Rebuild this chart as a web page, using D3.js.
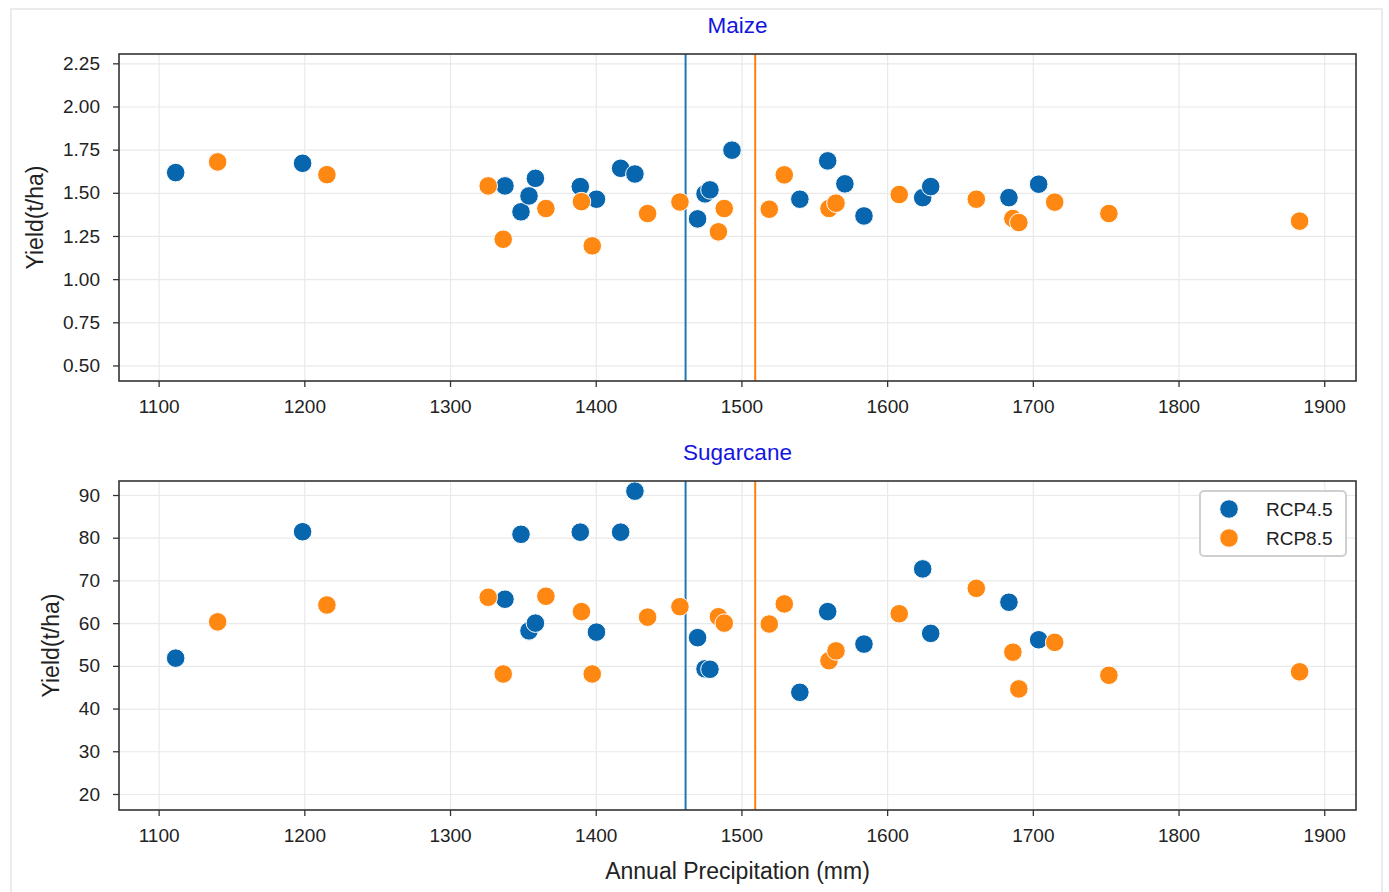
<!DOCTYPE html>
<html>
<head>
<meta charset="utf-8">
<script src="https://cdn.jsdelivr.net/npm/d3@7"></script>
<style>
  body { margin: 0; background: #fff; }
  svg { font-family: "Liberation Sans", Arial, sans-serif; }
  .tick text { fill: #222; }
</style>
</head>
<body>
<div id="chart"></div>
<script>
// annual precipitation (mm) per year, one list per scenario
const precip45 = [1111.7, 1198.8, 1337.7, 1348.7, 1354.2, 1358.6, 1389.4, 1400.5, 1417.1, 1426.9, 1469.9,
  1475.0, 1478.4, 1493.5, 1540.1, 1559.2, 1571.0, 1584.1, 1624.4, 1629.9, 1683.6, 1704.0];
const precip85 = [1140.5, 1215.5, 1326.2, 1336.5, 1365.8, 1390.2, 1397.6, 1435.6, 1457.8, 1484.2, 1488.2,
  1519.1, 1529.4, 1560.1, 1564.9, 1608.3, 1661.2, 1686.3, 1690.4, 1715.0, 1752.2, 1883.1];

// yields (t/ha)
const maize45 = [1.617, 1.671, 1.540, 1.390, 1.482, 1.584, 1.536, 1.463, 1.642, 1.609, 1.349,
  1.494, 1.517, 1.747, 1.463, 1.685, 1.552, 1.366, 1.472, 1.536, 1.472, 1.550];
const maize85 = [1.679, 1.605, 1.540, 1.231, 1.409, 1.449, 1.193, 1.380, 1.447, 1.274, 1.409,
  1.405, 1.604, 1.409, 1.440, 1.490, 1.463, 1.351, 1.328, 1.446, 1.380, 1.336];
const sugar45 = [51.8, 81.4, 65.6, 80.8, 58.2, 60.0, 81.3, 57.9, 81.3, 90.9, 56.6,
  49.3, 49.2, null, 43.8, 62.7, null, 55.1, 72.7, 57.6, 64.9, 56.1];
const sugar85 = [60.3, 64.25, 66.05, 48.1, 66.3, 62.7, 48.1, 61.4, 63.85, 61.5, 60.0,
  59.8, 64.5, 51.2, 53.5, 62.2, 68.15, 53.2, 44.6, 55.5, 47.8, 48.6];

const scenarios = ["RCP4.5", "RCP8.5"];
const xTicks = [1100, 1200, 1300, 1400, 1500, 1600, 1700, 1800, 1900];
const maizeTicks = [0.5, 0.75, 1.0, 1.25, 1.5, 1.75, 2.0, 2.25];
const sugarTicks = [20, 30, 40, 50, 60, 70, 80, 90];

const width = 1389;
const height = 892;
const dotColor = {"RCP4.5": "#0866ae", "RCP8.5": "#ff8812"};
const lineColor = {"RCP4.5": "#1f77b4", "RCP8.5": "#ff7f0e"};

const svg = d3.select("#chart").append("svg")
  .attr("width", width)
  .attr("height", height);

// figure frame
svg.append("rect")
  .attr("x", 11).attr("y", 9)
  .attr("width", 1371).attr("height", 892)
  .attr("fill", "none")
  .attr("stroke", "#ebebeb")
  .attr("stroke-width", 2);

const x = d3.scaleLinear()
  .domain([1072.8, 1921.8])
  .range([119, 1356]);

const means = {
  "RCP4.5": d3.mean(precip45),
  "RCP8.5": d3.mean(precip85),
};

function points(px, ys, scenario) {
  return px.map((p, i) => ({p, v: ys[i], scenario})).filter(d => d.v != null);
}

function drawPanel(cfg) {
  const y = d3.scaleLinear().domain(cfg.domain).range([cfg.bottom, cfg.top]);
  const g = svg.append("g");

  // grid
  g.append("g")
    .attr("transform", `translate(0,${cfg.bottom})`)
    .call(d3.axisBottom(x).tickValues(xTicks).tickSize(cfg.top - cfg.bottom).tickFormat(""))
    .call(g => g.select(".domain").remove())
    .call(g => g.selectAll(".tick line").attr("stroke", "#e9e9e9").attr("stroke-width", 1.2));
  g.append("g")
    .attr("transform", `translate(${x.range()[0]},0)`)
    .call(d3.axisLeft(y).tickValues(cfg.ticks).tickSize(x.range()[0] - x.range()[1]).tickFormat(""))
    .call(g => g.select(".domain").remove())
    .call(g => g.selectAll(".tick line").attr("stroke", "#e9e9e9").attr("stroke-width", 1.2));

  // mean precipitation lines
  g.selectAll("line.mean")
    .data(scenarios)
    .join("line")
    .attr("class", "mean")
    .attr("x1", d => x(means[d])).attr("x2", d => x(means[d]))
    .attr("y1", cfg.top).attr("y2", cfg.bottom)
    .attr("stroke", d => lineColor[d])
    .attr("stroke-width", 2);

  // dots
  g.selectAll("circle")
    .data(cfg.series)
    .join("circle")
    .attr("cx", d => x(d.p))
    .attr("cy", d => y(d.v))
    .attr("r", 9.3)
    .attr("fill", d => dotColor[d.scenario])
    .attr("stroke", "#fff")
    .attr("stroke-width", 1);

  // axes
  g.append("g")
    .attr("transform", `translate(0,${cfg.bottom})`)
    .call(d3.axisBottom(x).tickValues(xTicks).tickSize(6).tickPadding(13).tickFormat(d3.format("d")))
    .call(g => g.select(".domain").remove())
    .call(g => g.selectAll(".tick line").attr("stroke", "#333").attr("stroke-width", 1.3))
    .call(g => g.selectAll(".tick text").attr("font-size", 19).attr("font-family", null));
  g.append("g")
    .attr("transform", `translate(${x.range()[0]},0)`)
    .call(d3.axisLeft(y).tickValues(cfg.ticks).tickSize(6).tickPadding(13).tickFormat(cfg.format))
    .call(g => g.select(".domain").remove())
    .call(g => g.selectAll(".tick line").attr("stroke", "#333").attr("stroke-width", 1.3))
    .call(g => g.selectAll(".tick text").attr("font-size", 19).attr("font-family", null));

  g.append("rect")
    .attr("x", x.range()[0]).attr("y", cfg.top)
    .attr("width", x.range()[1] - x.range()[0])
    .attr("height", cfg.bottom - cfg.top)
    .attr("fill", "none")
    .attr("stroke", "#333")
    .attr("stroke-width", 1.6);

  g.append("text")
    .attr("x", (x.range()[0] + x.range()[1]) / 2)
    .attr("y", cfg.top - 21)
    .attr("text-anchor", "middle")
    .attr("font-size", 22.5)
    .attr("fill", "#1414e0")
    .text(cfg.title);

  g.append("text")
    .attr("transform", `translate(${cfg.ylabelX},${(cfg.top + cfg.bottom) / 2}) rotate(-90)`)
    .attr("text-anchor", "middle")
    .attr("font-size", 23)
    .attr("fill", "#222")
    .text("Yield(t/ha)");

  return g;
}

drawPanel({
  title: "Maize",
  top: 54, bottom: 381,
  domain: [0.41, 2.304],
  ticks: maizeTicks,
  format: d3.format(".2f"),
  ylabelX: 43,
  series: points(precip45, maize45, "RCP4.5").concat(points(precip85, maize85, "RCP8.5")),
});

const bottomPanel = drawPanel({
  title: "Sugarcane",
  top: 481, bottom: 810,
  domain: [16.25, 93.28],
  ticks: sugarTicks,
  format: d3.format("d"),
  ylabelX: 59,
  series: points(precip45, sugar45, "RCP4.5").concat(points(precip85, sugar85, "RCP8.5")),
});

svg.append("text")
  .attr("x", (x.range()[0] + x.range()[1]) / 2)
  .attr("y", 879)
  .attr("text-anchor", "middle")
  .attr("font-size", 23)
  .attr("fill", "#222")
  .text("Annual Precipitation (mm)");

// legend
const legend = bottomPanel.append("g").attr("transform", "translate(1200,491)");
legend.append("rect")
  .attr("width", 146).attr("height", 65)
  .attr("rx", 4)
  .attr("fill", "#fff")
  .attr("stroke", "#cfcfcf")
  .attr("stroke-width", 2);
const item = legend.selectAll("g.item")
  .data(scenarios)
  .join("g")
  .attr("class", "item")
  .attr("transform", (d, i) => `translate(0,${18 + i * 29})`);
item.append("circle")
  .attr("cx", 29).attr("r", 9.3)
  .attr("fill", d => dotColor[d])
  .attr("stroke", "#fff");
item.append("text")
  .attr("x", 66).attr("dy", "0.35em")
  .attr("font-size", 19)
  .attr("fill", "#222")
  .text(d => d);
</script>
</body>
</html>
